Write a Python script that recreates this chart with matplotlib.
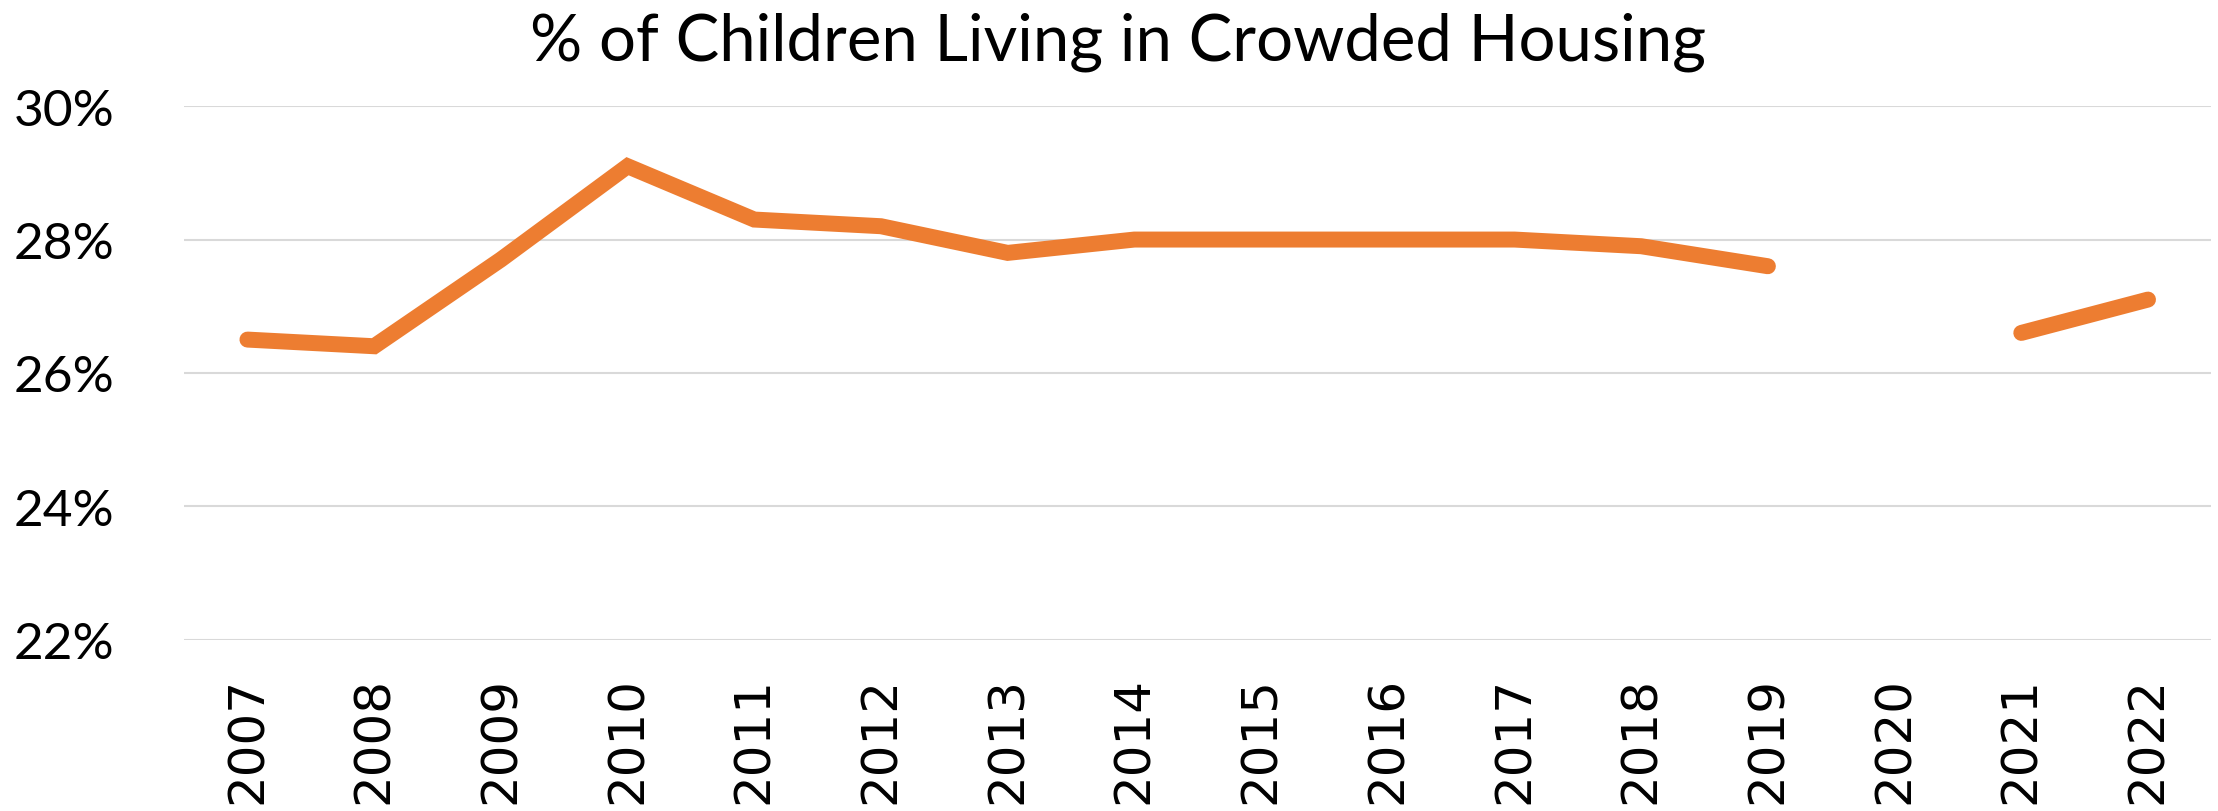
import numpy as np
import matplotlib.pyplot as plt
from matplotlib.ticker import FuncFormatter

# data
years = ['2007', '2008', '2009', '2010', '2011', '2012', '2013', '2014',
         '2015', '2016', '2017', '2018', '2019', '2020', '2021', '2022']
crowded_pct = [26.5, 26.4, 27.7, 29.1, 28.3, 28.2, 27.8, 28.0,
               28.0, 28.0, 28.0, 27.9, 27.6, np.nan, 26.6, 27.1]
y_ticks = [22, 24, 26, 28, 30]

title_font = ['Lato', 'DejaVu Sans']
ytick_font = ['Lato', 'DejaVu Sans']

fig = plt.figure(figsize=(22.18, 8.12), dpi=100)
ax = fig.add_axes([0.083, 0.211, 0.914, 0.657])

x = np.arange(len(years))
ax.plot(x, crowded_pct, color='#ED7D31', linewidth=11.5,
        solid_capstyle='round', solid_joinstyle='miter', zorder=3)

ax.set_xlim(-0.5, len(years) - 0.5)
ax.set_ylim(22, 30)
ax.set_yticks(y_ticks)
ax.yaxis.set_major_formatter(FuncFormatter(lambda v, p: f'{v:.0f}%'))
ax.set_xticks(x)
ax.set_xticklabels(years, rotation=90, fontsize=36, family='DejaVu Sans')
for lbl in ax.get_yticklabels():
    lbl.set_fontfamily(ytick_font)
    lbl.set_fontsize(37)

ax.tick_params(axis='both', length=0)
ax.tick_params(axis='y', pad=50)
ax.tick_params(axis='x', pad=26)
ax.grid(axis='y', color='#D9D9D9', linewidth=1.5)
ax.set_axisbelow(True)
for s in ax.spines.values():
    s.set_visible(False)

fig.text(0.504, 0.926, '% of Children Living in Crowded Housing',
         ha='center', va='baseline', fontsize=47, family=title_font)

fig.savefig('out.png', dpi=100)
